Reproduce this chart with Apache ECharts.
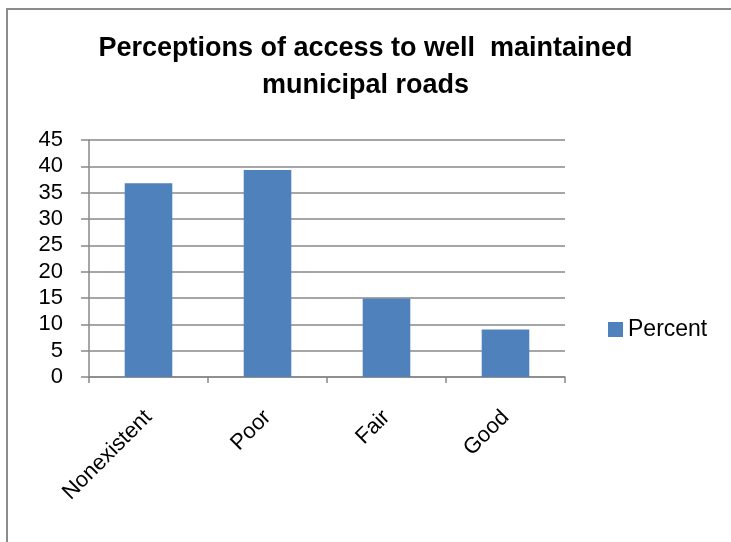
<!DOCTYPE html>
<html>
<head>
<meta charset="utf-8">
<script src="https://cdn.jsdelivr.net/npm/echarts@6/dist/echarts.min.js"></script>
<style>
  html, body { margin: 0; padding: 0; background: #ffffff; }
  #chart { width: 731px; height: 542px; }
</style>
</head>
<body>
<div id="chart"></div>
<script>
// Road access ratings (percent of respondents)
const categories = ['Nonexistent', 'Poor', 'Fair', 'Good'];
const percentValues = [36.8, 39.3, 14.9, 9.0];
const seriesName = 'Percent';
const yTicks = { min: 0, max: 45, interval: 5 };

const FONT = '"Liberation Sans", Arial, sans-serif';
const GRID_GRAY = '#888888';

const chart = echarts.init(document.getElementById('chart'), null, { renderer: 'canvas' });

chart.setOption({
  backgroundColor: '#ffffff',
  animation: false,
  title: {
    text: 'Perceptions of access to well  maintained\nmunicipal roads',
    left: 'center',
    top: 30,
    padding: [0, 0, 0, 13],
    textStyle: {
      fontFamily: FONT,
      fontWeight: 'bold',
      fontSize: 27,
      lineHeight: 37,
      color: '#000000'
    }
  },
  legend: {
    data: [seriesName],
    left: 603,
    top: 313,
    itemWidth: 15,
    itemHeight: 15,
    icon: 'rect',
    textStyle: { fontFamily: FONT, fontSize: 23, color: '#000000', lineHeight: 23 }
  },
  grid: { left: 89, right: 166, top: 140, bottom: 165, containLabel: false },
  xAxis: {
    type: 'category',
    data: categories,
    boundaryGap: true,
    axisLine: { show: true, lineStyle: { color: GRID_GRAY, width: 1.5 } },
    axisTick: { show: true, alignWithLabel: false, length: 6, lineStyle: { color: GRID_GRAY, width: 1.5 } },
    axisLabel: {
      rotate: 45,
      margin: 37,
      fontFamily: FONT,
      fontSize: 22,
      color: '#000000'
    }
  },
  yAxis: {
    type: 'value',
    min: yTicks.min,
    max: yTicks.max,
    interval: yTicks.interval,
    axisLine: { show: true, lineStyle: { color: GRID_GRAY, width: 1.5 } },
    axisTick: { show: true, inside: false, length: 8, lineStyle: { color: GRID_GRAY, width: 1.5 } },
    splitLine: { show: true, lineStyle: { color: GRID_GRAY, width: 1.5 } },
    axisLabel: {
      margin: 26,
      fontFamily: FONT,
      fontSize: 22,
      color: '#000000'
    }
  },
  series: [{
    name: seriesName,
    type: 'bar',
    data: percentValues,
    barCategoryGap: '60%',
    itemStyle: { color: '#4F81BD' }
  }],
  graphic: [{
    type: 'rect',
    silent: true,
    shape: { x: 7, y: 9, width: 760, height: 560 },
    style: { fill: 'none', stroke: '#8c8c8c', lineWidth: 2 },
    z: 100
  }]
});
</script>
</body>
</html>
